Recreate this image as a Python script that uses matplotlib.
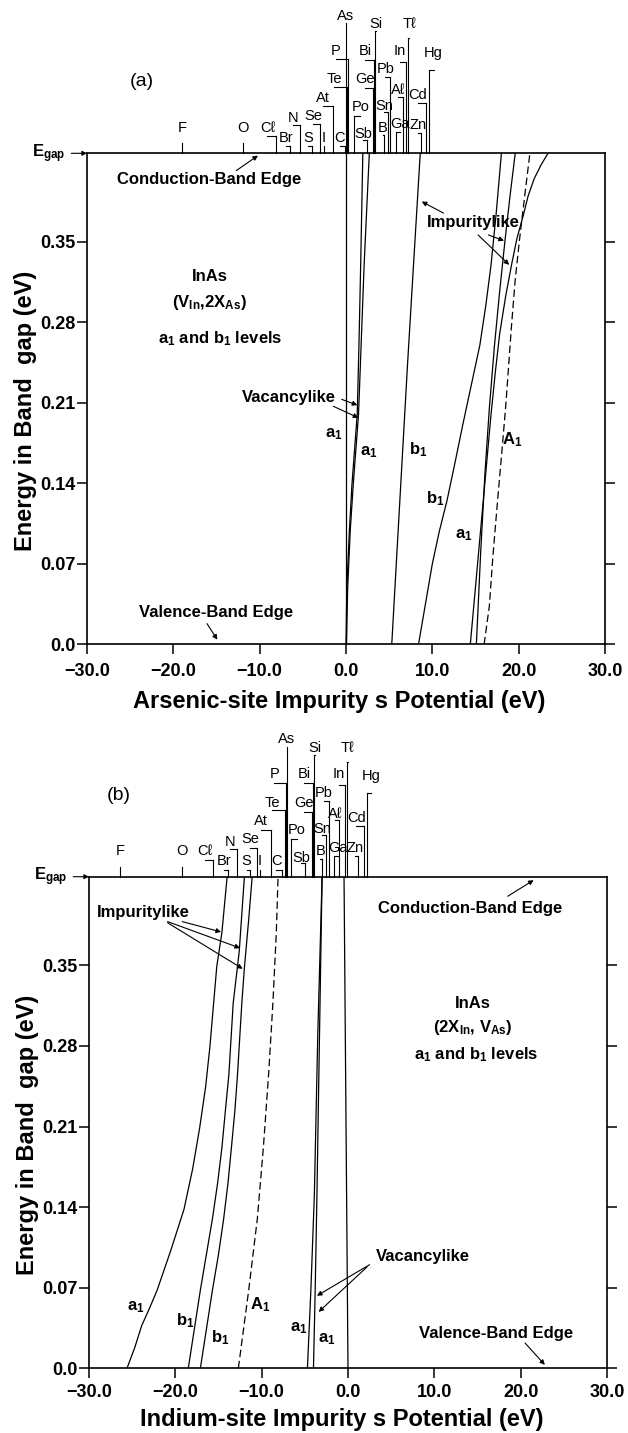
import matplotlib
matplotlib.use("Agg")
import matplotlib.pyplot as plt
from matplotlib import transforms

plt.rcParams['font.family'] = ['Liberation Sans', 'DejaVu Sans']
plt.rcParams['mathtext.fontset'] = 'custom'
plt.rcParams['mathtext.rm'] = 'Liberation Sans'
plt.rcParams['mathtext.bf'] = 'Liberation Sans:bold'
plt.rcParams['mathtext.it'] = 'Liberation Sans:italic'

E_GAP = 0.427

# impurity s potentials marked above each panel (eV)
elements = ["F", "O", "Cℓ", "Br", "N", "S", "Se", "I", "At", "C", "Te", "P", "As",
            "Po", "Sb", "Bi", "Ge", "Si", "Sn", "B", "Pb", "Ga", "Aℓ", "In", "Tℓ",
            "Cd", "Zn", "Hg"]
pot_as_site = [-19.0, -11.9, -8.1, -6.45, -5.3, -3.9, -3.0, -2.6, -1.5, -0.1, 0.1, 0.2, 0.0,
               0.95, 2.4, 3.2, 3.1, 3.35, 4.9, 4.45, 5.15, 5.8, 6.55, 6.95, 7.2,
               9.25, 8.7, 9.65]
pot_in_site = [-26.4, -19.2, -15.6, -13.9, -12.9, -11.3, -10.5, -10.2, -8.9, -7.7, -7.25, -7.2, -7.1,
               -6.6, -5.0, -4.1, -4.2, -3.9, -2.5, -3.0, -2.2, -1.6, -1.0, -0.35, -0.15,
               1.85, 1.2, 2.2]

# label layout: label shift (eV), label baseline (px above frame), hook height (px)
lab_dx = [0, 0, -1.0, -0.45, -0.8, -0.45, -0.8, 0, -1.15, -0.6, -1.5, -1.35, 0,
          0.7, -0.4, -0.95, -0.9, 0.1, -0.5, -0.2, -0.6, 0.4, -0.5, -0.7, 0.1,
          -0.9, -0.4, 0.5]
lab_h = [21.6, 21.6, 21.6, 11.6, 31, 11.6, 33.3, 11.6, 51.6, 11.6, 70, 98.3, 133.3,
         42.3, 15, 98.3, 70, 125, 43.3, 21.6, 80, 25, 59, 98.3, 125,
         54.3, 24.3, 96.6]
hook_h = [10, 10, 17, 7, 28, 7, 29, 7, 47, 7, 66.6, 94, 130,
          37.3, 13.3, 93.3, 65, 122, 41.6, 18, 76, 21, 56.6, 91.6, 115,
          50.6, 20.6, 83.3]

# panel (a): arsenic site, levels (V, E)
a_vac0 = ([0.0, 0.0], [0.0, 0.427])
a_vac1 = ([0.0, 0.1, 0.4, 0.7, 1.0, 1.3, 1.5, 1.7, 1.95],
          [0.0, 0.05, 0.1, 0.14, 0.17, 0.2, 0.26, 0.33, 0.427])
a_vac2 = ([0.05, 0.2, 0.5, 0.85, 1.15, 1.45, 1.75, 2.1, 2.7],
          [0.0, 0.05, 0.1, 0.14, 0.17, 0.2, 0.26, 0.33, 0.427])
a_b1_line = ([5.3, 6.2, 7.1, 7.9, 8.6], [0.0, 0.12, 0.24, 0.34, 0.427])
a_b1_curve = ([8.4, 9.2, 10.0, 10.8, 11.7, 12.6, 13.5, 14.5, 15.5, 16.2, 16.8, 17.4, 18.0],
              [0.0, 0.035, 0.07, 0.098, 0.125, 0.157, 0.19, 0.225, 0.26, 0.295, 0.33, 0.375, 0.427])
a_a1_line = ([15.1, 15.6, 16.1, 16.6, 17.2, 17.8, 18.4, 19.0, 19.6],
             [0.0, 0.08, 0.149, 0.205, 0.26, 0.307, 0.35, 0.39, 0.427])
a_a1_curve = ([14.4, 15.0, 15.6, 16.2, 16.8, 17.3, 17.8, 18.5, 19.2, 19.8, 20.5, 21.1, 21.8, 22.6, 23.4],
              [0.0, 0.05, 0.1, 0.15, 0.2, 0.237, 0.27, 0.303, 0.331, 0.353, 0.372, 0.39, 0.405, 0.417, 0.427])
a_A1 = ([16.0, 16.6, 17.0, 17.5, 18.0, 18.5, 19.2, 19.6, 20.1, 20.7, 21.3],
        [0.0, 0.033, 0.075, 0.12, 0.163, 0.207, 0.28, 0.317, 0.352, 0.39, 0.427])

# panel (b): indium site
b_a1_curve = ([-25.6, -24.7, -23.9, -23.0, -22.1, -20.5, -19.0, -18.0, -17.2, -16.5, -16.0, -15.6, -15.2, -14.6, -14.0],
              [0.0, 0.018, 0.037, 0.052, 0.068, 0.103, 0.138, 0.173, 0.208, 0.244, 0.279, 0.314, 0.349, 0.379, 0.427])
b_b1_left = ([-18.5, -17.8, -17.1, -16.4, -15.7, -15.1, -14.6, -14.2, -13.8, -13.3, -12.6, -12.0],
             [0.0, 0.034, 0.068, 0.099, 0.13, 0.161, 0.192, 0.224, 0.255, 0.317, 0.362, 0.427])
b_b1_right = ([-17.1, -16.4, -15.7, -15.0, -14.4, -13.9, -13.5, -13.1, -12.8, -12.3, -12.0, -11.5, -11.1],
              [0.0, 0.034, 0.068, 0.099, 0.13, 0.161, 0.192, 0.224, 0.255, 0.317, 0.348, 0.39, 0.427])
b_A1 = ([-12.7, -12.1, -11.5, -11.0, -10.5, -9.8, -9.2, -8.7, -8.3, -8.1],
        [0.0, 0.034, 0.068, 0.099, 0.13, 0.192, 0.255, 0.317, 0.379, 0.427])
b_vac1 = ([-4.7, -4.3, -3.9, -3.5, -3.0], [0.0, 0.068, 0.15, 0.29, 0.427])
b_vac2 = ([-4.0, -3.8, -3.6, -3.3, -3.0], [0.0, 0.068, 0.15, 0.29, 0.427])
b_vac0 = ([0.0, -0.46], [0.0, 0.427])

xticks = [-30, -20, -10, 0, 10, 20, 30]
xtick_labels = ["\u221230.0", "\u221220.0", "\u221210.0", "0.0", "10.0", "20.0", "30.0"]
yticks = [0.0, 0.07, 0.14, 0.21, 0.28, 0.35]
ytick_labels = ["0.0", "0.07", "0.14", "0.21", "0.28", "0.35"]

W, H = 628, 1433
fig = plt.figure(figsize=(W / 100, H / 100), dpi=100)
ax_a = fig.add_axes([87 / W, 1 - 644.3 / H, 518 / W, 491 / H])
ax_b = fig.add_axes([89 / W, 1 - 1368.3 / H, 518 / W, 491.6 / H])

LW = 0.9
bold = dict(fontweight='bold', fontsize=12)


def frame(ax, xlabel, xlab_y, xpad):
    ax.set_xlim(-30, 30)
    ax.set_ylim(0, E_GAP)
    ax.set_xticks(xticks)
    ax.set_xticklabels(xtick_labels, fontweight='bold', fontsize=13)
    ax.set_yticks(yticks)
    ax.set_yticklabels(ytick_labels, fontweight='bold', fontsize=13)
    ax.tick_params(direction='out', length=7.5, width=1.1, right=True, top=False)
    ax.tick_params(axis='x', pad=xpad)
    ax.tick_params(axis='y', pad=1)
    for s in ax.spines.values():
        s.set_linewidth(1.2)
    ax.set_xlabel(xlabel, fontweight='bold', fontsize=17, va='center')
    ax.xaxis.set_label_coords(0.487, xlab_y)
    ax.set_ylabel("Energy in Band  gap (eV)", fontweight='bold', fontsize=17, va='center')
    ax.yaxis.set_label_coords(-0.118, 0.475)
    ax.annotate(r"E$_{\mathbf{gap}}$", xy=(0, 1), xycoords='axes fraction',
                xytext=(-38, 0), textcoords='offset pixels', ha='center', va='center',
                fontweight='bold', fontsize=12,
                arrowprops=dict(arrowstyle='-|>', color='k', lw=0.8, mutation_scale=7,
                                shrinkA=2, shrinkB=0))


def element_marks(ax, pots, height_px):
    tr = transforms.blended_transform_factory(ax.transData, ax.transAxes)
    for name, v, dx, lh, hh in zip(elements, pots, lab_dx, lab_h, hook_h):
        y_top = 1 + hh / height_px
        ax.plot([v, v], [1, y_top], color='k', lw=0.8, transform=tr, clip_on=False)
        if dx != 0:
            ax.plot([v, v + dx], [y_top, y_top], color='k', lw=0.8, transform=tr, clip_on=False)
        ax.text(v + dx, 1 + lh / height_px, name, transform=tr, ha='center', va='baseline',
                fontsize=10.5, clip_on=False)


def arrow(ax, head, tail):
    ax.annotate("", xy=head, xytext=tail,
                arrowprops=dict(arrowstyle='-|>', color='k', lw=0.8, mutation_scale=7,
                                shrinkA=0, shrinkB=0))


def sub1(s):
    return s + r"$_{\mathbf{1}}$"


# ---------------- panel (a)
ax = ax_a
frame(ax, "Arsenic-site Impurity s Potential (eV)", -0.1175, 6)
for c in [a_vac0, a_vac1, a_vac2, a_b1_line, a_b1_curve, a_a1_line, a_a1_curve]:
    ax.plot(c[0], c[1], color='k', lw=LW)
ax.plot(a_A1[0], a_A1[1], color='k', lw=LW, ls=(0, (6, 3)))
element_marks(ax, pot_as_site, 491)

ax.text(-15.8, 0.404, "Conduction-Band Edge", ha='center', va='center', **bold)
arrow(ax, (-10.2, 0.425), (-12.7, 0.412))
ax.text(-15.0, 0.028, "Valence-Band Edge", ha='center', va='center', **bold)
arrow(ax, (-14.9, 0.004), (-16.1, 0.018))
ax.text(-15.8, 0.320, "InAs", ha='center', va='center', **bold)
ax.text(-15.8, 0.297, r"(V$_{\mathbf{In}}$,2X$_{\mathbf{As}}$)", ha='center', va='center', **bold)
ax.text(-14.6, 0.266, sub1("a") + " and " + sub1("b") + " levels", ha='center', va='center', **bold)
ax.text(-6.6, 0.215, "Vacancylike", ha='center', va='center', **bold)
arrow(ax, (1.31, 0.208), (-0.5, 0.213))
arrow(ax, (1.43, 0.197), (-1.47, 0.207))
ax.text(14.75, 0.367, "Impuritylike", ha='center', va='center', **bold)
arrow(ax, (8.77, 0.385), (11.3, 0.375))
arrow(ax, (18.3, 0.351), (16.5, 0.356))
arrow(ax, (18.9, 0.330), (15.3, 0.356))
for x, y, s in [(-1.47, 0.183, "a"), (2.58, 0.167, "a"), (8.38, 0.169, "b"),
                (10.3, 0.127, "b"), (13.6, 0.095, "a"), (19.2, 0.178, "A")]:
    ax.text(x, y, sub1(s), ha='center', va='center', **bold)

# ---------------- panel (b)
ax = ax_b
frame(ax, "Indium-site Impurity s Potential (eV)", -0.105, 4)
for c in [b_a1_curve, b_b1_left, b_b1_right, b_vac1, b_vac2, b_vac0]:
    ax.plot(c[0], c[1], color='k', lw=LW)
ax.plot(b_A1[0], b_A1[1], color='k', lw=LW, ls=(0, (6, 3)))
element_marks(ax, pot_in_site, 491.6)

ax.text(14.1, 0.399, "Conduction-Band Edge", ha='center', va='center', **bold)
arrow(ax, (21.5, 0.424), (18.5, 0.410))
ax.text(17.2, 0.030, "Valence-Band Edge", ha='center', va='center', **bold)
arrow(ax, (22.8, 0.003), (20.5, 0.022))
ax.text(14.5, 0.317, "InAs", ha='center', va='center', **bold)
ax.text(14.5, 0.296, r"(2X$_{\mathbf{In}}$, V$_{\mathbf{As}}$)", ha='center', va='center', **bold)
ax.text(14.9, 0.272, sub1("a") + " and " + sub1("b") + " levels", ha='center', va='center', **bold)
ax.text(8.7, 0.097, "Vacancylike", ha='center', va='center', **bold)
arrow(ax, (-3.6, 0.063), (2.5, 0.090))
arrow(ax, (-3.4, 0.049), (2.2, 0.088))
ax.text(-23.7, 0.396, "Impuritylike", ha='center', va='center', **bold)
arrow(ax, (-14.7, 0.379), (-19.2, 0.388))
arrow(ax, (-12.5, 0.365), (-20.9, 0.388))
arrow(ax, (-12.2, 0.347), (-20.9, 0.387))
for x, y, s in [(-24.6, 0.053, "a"), (-18.8, 0.041, "b"), (-14.8, 0.027, "b"),
                (-10.2, 0.055, "A"), (-5.7, 0.035, "a"), (-2.5, 0.025, "a")]:
    ax.text(x, y, sub1(s), ha='center', va='center', **bold)

fig.text(141.7 / W, 1 - 81.7 / H, "(a)", fontsize=14, ha='center', va='center')
fig.text(118.3 / W, 1 - 795 / H, "(b)", fontsize=14, ha='center', va='center')

fig.savefig("out.png", dpi=100, facecolor='white')
